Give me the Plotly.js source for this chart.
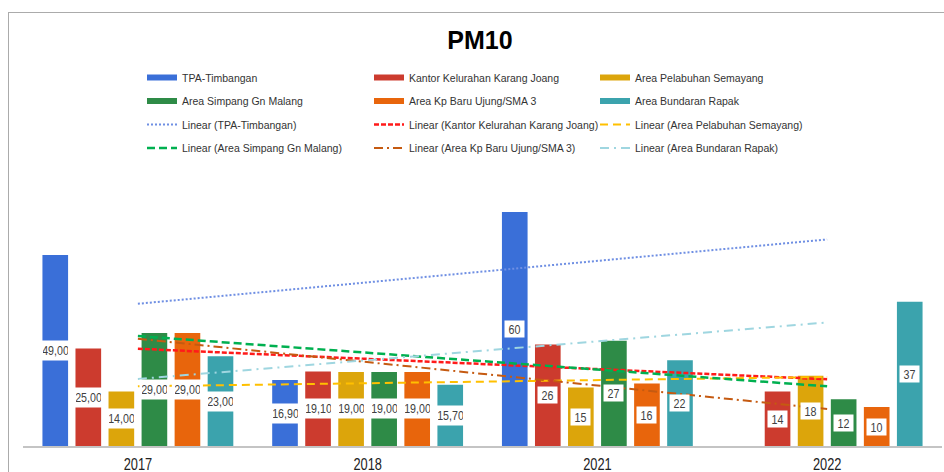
<!DOCTYPE html>
<html>
<head>
<meta charset="utf-8">
<script src="https://cdn.plot.ly/plotly-3.0.1.min.js"></script>
<style>
  html, body { margin: 0; padding: 0; background: #ffffff; }
  #wrap { position: relative; width: 944px; height: 472px; }
  #chart { width: 944px; height: 472px; }
  #frame {
    position: absolute; left: 8px; top: 12px; right: 0; bottom: 0;
    border-left: 1px solid #ababab; border-top: 1px solid #ababab;
    pointer-events: none;
  }
</style>
</head>
<body>
<div id="wrap"><div id="chart"></div><div id="frame"></div></div>
<script>
// PM10 readings per monitoring site and year
const years = ['2017', '2018', '2021', '2022'];
const seriesNames = [
  'TPA-Timbangan',
  'Kantor Kelurahan Karang Joang',
  'Area Pelabuhan Semayang',
  'Area Simpang Gn Malang',
  'Area Kp Baru Ujung/SMA 3',
  'Area Bundaran Rapak'
];
const tpaTimbangan      = [49, 16.9, 60, null];
const kantorKarangJoang = [25, 19.1, 26, 14];
const pelabuhanSemayang = [14, 19, 15, 18];
const simpangGnMalang   = [29, 19, 27, 12];
const kpBaruUjung       = [29, 19, 16, 10];
const bundaranRapak     = [23, 15.7, 22, 37];
// decimals shown in the value labels for each year
const labelDecimals = [2, 2, 0, 0];

const valueSets = [tpaTimbangan, kantorKarangJoang, pelabuhanSemayang,
                   simpangGnMalang, kpBaruUjung, bundaranRapak];

const barColors = ['#3a6fd8', '#cc3b2e', '#dca50b', '#2e8b47', '#e8650c', '#3ba3ad'];
const trendStyles = [
  { color: '#6f8fe3', dash: '2px,2px', width: 2 },
  { color: '#ff1a1a', dash: '5px,2px', width: 2.5 },
  { color: '#ffc000', dash: '8px,5px', width: 2 },
  { color: '#00b050', dash: '8px,4px', width: 2.5 },
  { color: '#c55a11', dash: '9px,4px,2px,4px', width: 2 },
  { color: '#9fd6e0', dash: '9px,5px,2px,5px', width: 2 }
];
const legendIds = ['legend', 'legend2', 'legend3', 'legend', 'legend2', 'legend3'];

const FONT = '"Liberation Sans", Arial, sans-serif';

// Least-squares linear trend over the year index (1..n), skipping gaps
function linearTrend(values) {
  const pts = [];
  values.forEach((v, i) => { if (v !== null) pts.push([i + 1, v]); });
  const n = pts.length;
  const mx = pts.reduce((s, p) => s + p[0], 0) / n;
  const my = pts.reduce((s, p) => s + p[1], 0) / n;
  let sxy = 0, sxx = 0;
  pts.forEach(p => { sxy += (p[0] - mx) * (p[1] - my); sxx += (p[0] - mx) * (p[0] - mx); });
  const slope = sxy / sxx;
  const icpt = my - slope * mx;
  return values.map((_, i) => icpt + slope * (i + 1));
}

function fmt(v, dec) {
  return dec > 0 ? v.toFixed(dec).replace('.', ',') : String(Math.round(v));
}

const bargap = 0.137;
const bargroupgap = 0.224;

const barTraces = valueSets.map((vals, k) => ({
  type: 'bar', x: years, y: vals, name: seriesNames[k],
  marker: { color: barColors[k], line: { width: 0 } },
  showlegend: false, legend: legendIds[k], legendgroup: 's' + k
}));

// legend swatches for the bar series (wide flat bars)
const swatchTraces = valueSets.map((vals, k) => ({
  type: 'scatter', mode: 'lines', x: [null], y: [null], name: seriesNames[k],
  line: { color: barColors[k], width: 6 },
  legend: legendIds[k], legendgroup: 's' + k
}));

const trendTraces = valueSets.map((vals, k) => ({
  type: 'scatter', mode: 'lines', x: years, y: linearTrend(vals),
  name: 'Linear (' + seriesNames[k] + ')',
  line: { color: trendStyles[k].color, dash: trendStyles[k].dash, width: trendStyles[k].width },
  legend: legendIds[k], legendgroup: 't' + k
}));

// value labels centred in each bar, on a white box
const nSeries = valueSets.length;
const groupSpan = 1 - bargap;
const slot = groupSpan / nSeries;
const annotations = [];
valueSets.forEach((vals, k) => {
  vals.forEach((v, i) => {
    if (v === null) return;
    const wide = labelDecimals[i] > 0;
    annotations.push({
      xref: 'x', yref: 'y',
      x: i - groupSpan / 2 + slot * (k + 0.5),
      y: v / 2,
      text: fmt(v, labelDecimals[i]),
      showarrow: false,
      bgcolor: '#ffffff',
      borderpad: 2,
      width: wide ? 25 : 15,
      height: wide ? 15 : 12,
      font: { family: FONT, size: 13, color: '#404040' }
    });
  });
});

const legendBase = {
  orientation: 'v', xref: 'container', yref: 'container',
  xanchor: 'left', yanchor: 'top', y: 1 - 63 / 472,
  bgcolor: 'rgba(0,0,0,0)', borderwidth: 0, tracegroupgap: 4.5,
  font: { family: FONT, size: 10.5, color: '#333333' }
};

const layout = {
  width: 944, height: 472,
  margin: { l: 23, r: 2, t: 170, b: 26, autoexpand: false },
  paper_bgcolor: '#ffffff', plot_bgcolor: 'rgba(0,0,0,0)',
  barmode: 'group', bargap: bargap, bargroupgap: bargroupgap,
  title: {
    text: '<b>PM10</b>', xref: 'container', x: 480 / 944, xanchor: 'center',
    yref: 'container', y: 1 - 40 / 472, yanchor: 'middle',
    font: { family: FONT, size: 25, color: '#000000' }
  },
  xaxis: {
    type: 'category', range: [-0.5, 3.5], showline: true, linecolor: '#c4c4c4',
    linewidth: 1.5, ticks: '', showgrid: false, zeroline: false,
    ticklabelstandoff: 3,
    tickfont: { family: FONT, size: 16, color: '#222222' }
  },
  yaxis: { range: [0, 70.77], visible: false },
  legend: Object.assign({}, legendBase, { x: 142 / 944 }),
  legend2: Object.assign({}, legendBase, { x: 369 / 944 }),
  legend3: Object.assign({}, legendBase, { x: 595 / 944 }),
  annotations: annotations
};

// narrow the text horizontally, keeping its height
function condense(root, selector, factor) {
  root.querySelectorAll(selector).forEach(el => {
    if (el.hasAttribute('textLength')) return;
    const w = el.getComputedTextLength();
    if (w > 0) {
      el.setAttribute('textLength', (w * factor).toFixed(1));
      el.setAttribute('lengthAdjust', 'spacingAndGlyphs');
    }
  });
}

function condenseAll(gd) {
  condense(gd, '.annotation-text', 0.82);
  condense(gd, '.xtick text', 0.8);
}

Plotly.newPlot('chart', barTraces.concat(swatchTraces, trendTraces), layout,
  { displayModeBar: false, staticPlot: true }).then(gd => {
  condenseAll(gd);
  setTimeout(() => condenseAll(gd), 50);
});
</script>
</body>
</html>
